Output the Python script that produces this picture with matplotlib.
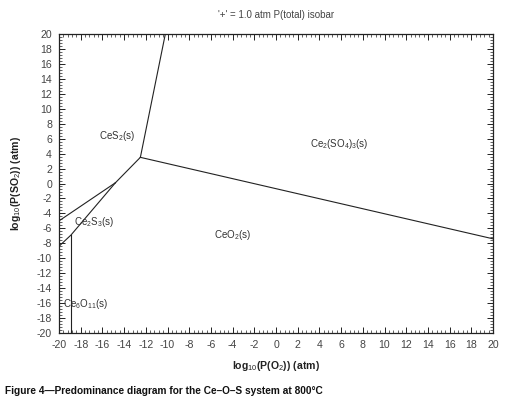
import matplotlib
matplotlib.use("Agg")
import matplotlib.pyplot as plt
from matplotlib.ticker import MultipleLocator

plt.rcParams['font.family'] = ['Liberation Sans', 'DejaVu Sans']
plt.rcParams['mathtext.fontset'] = 'custom'
plt.rcParams['mathtext.rm'] = 'Liberation Sans'
plt.rcParams['mathtext.bf'] = 'Liberation Sans:bold'
plt.rcParams['axes.unicode_minus'] = False

# Phase boundaries (log10 P(O2), log10 P(SO2))
sulfate_x = [-10.2, -12.5]
sulfate_y = [20.0, 3.5]
sulfate_ceo2_x = [-12.5, 20.0]
sulfate_ceo2_y = [3.5, -7.4]
ces2_ceo2_x = [-12.5, -14.8]
ces2_ceo2_y = [3.5, 0.1]
ces2_ce2s3_x = [-14.8, -20.0]
ces2_ce2s3_y = [0.1, -5.0]
ce2s3_ceo2_x = [-14.8, -18.9, -20.0]
ce2s3_ceo2_y = [0.1, -6.9, -8.4]
ce6o11_x = [-18.9, -18.9]
ce6o11_y = [-20.0, -6.9]

# Region labels
label_text = ["CeS$_2$(s)", "Ce$_2$(SO$_4$)$_3$(s)", "CeO$_2$(s)", "Ce$_2$S$_3$(s)", "Ce$_6$O$_{11}$(s)"]
label_x = [-14.7, 5.8, -4.0, -16.8, -17.6]
label_y = [6.4, 5.3, -6.9, -5.15, -16.1]

ticks = list(range(-20, 21, 2))

fig = plt.figure(figsize=(5.09, 4.05), dpi=100)
ax = fig.add_axes([59/509, 1-333/405, 434/509, 299/405])

for xs, ys in [(sulfate_x, sulfate_y), (sulfate_ceo2_x, sulfate_ceo2_y),
               (ces2_ceo2_x, ces2_ceo2_y), (ces2_ce2s3_x, ces2_ce2s3_y),
               (ce2s3_ceo2_x, ce2s3_ceo2_y), (ce6o11_x, ce6o11_y)]:
    ax.plot(xs, ys, color='#222222', lw=0.8)

for t, x, y in zip(label_text, label_x, label_y):
    ax.text(x, y, t, ha='center', va='center', fontsize=7, color='#333333')

ax.set_xlim(-20, 20)
ax.set_ylim(-20, 20)
ax.set_xticks(ticks)
ax.set_yticks(ticks)
ax.xaxis.set_minor_locator(MultipleLocator(0.4))
ax.yaxis.set_minor_locator(MultipleLocator(0.4))
ax.tick_params(which='both', direction='in', top=True, right=True,
               labelsize=7.6, labelcolor='#444444', color='#222222')
ax.tick_params(which='major', length=4, width=0.7, pad=5)
ax.tick_params(which='minor', length=2, width=0.5)
for s in ax.spines.values():
    s.set_linewidth(0.9)
    s.set_color('#222222')

ax.set_xlabel("log$_{10}$(P(O$_2$)) (atm)", fontsize=7.6, fontweight='bold', color='#222222')
ax.xaxis.set_label_coords(0.5, -0.088)
ax.set_ylabel("log$_{10}$(P(SO$_2$)) (atm)", fontsize=7.6, fontweight='bold', color='#222222')
ax.yaxis.set_label_coords(-0.082, 0.5)

fig.text(276/509, 1-15/405, "'+' = 1.0 atm P(total) isobar", ha='center', va='center',
         fontsize=7, color='#444444')
fig.text(5/509, 1-391/405, "Figure 4\u2014Predominance diagram for the Ce\u2013O\u2013S system at 800\u00b0C",
         ha='left', va='center', fontsize=7.3, fontweight='bold', color='#111111')

fig.savefig("out.png", dpi=100)
